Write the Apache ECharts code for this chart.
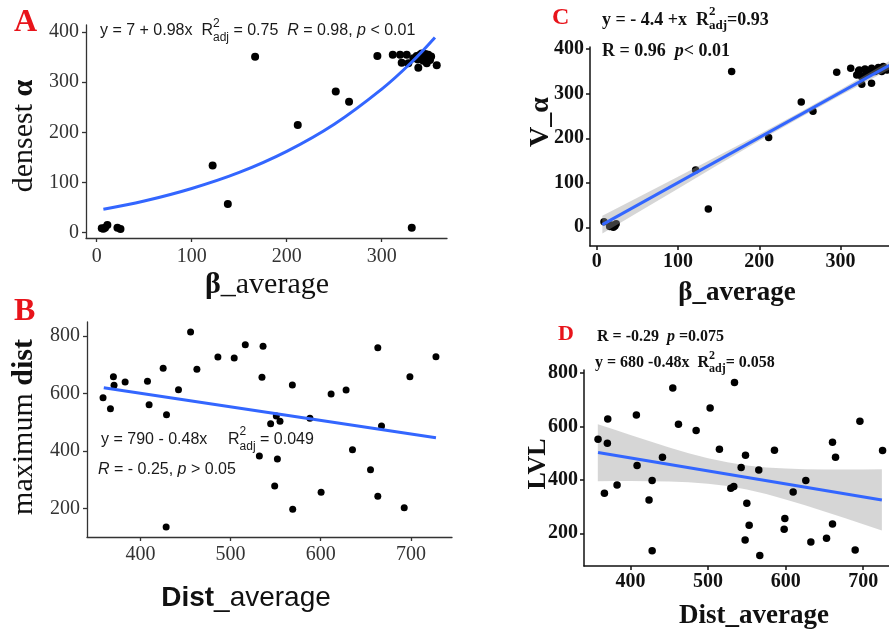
<!DOCTYPE html>
<html><head><meta charset="utf-8">
<script src="https://cdn.jsdelivr.net/npm/echarts@6/dist/echarts.min.js"></script>
<style>html,body{margin:0;padding:0;background:#fff}#c{width:889px;height:632px}</style>
</head><body><div id="c"></div>
<script>
// ---------- Panel A : densest alpha vs beta_average ----------
const betaA  = [5.3,7,8.8,11.2,21.8,25,122,138,166.7,211.6,251.6,265.6,295.4,311.6,319.3,326.3,321,328,336.8,340.3,345.6,349,338.5,350.8,343.8,357.9,333.3,347.4,331.6,342,346,338,352];
const alphaA = [8.7,8,10,15.3,10,7.3,134,57,350.7,214.7,281,261,352,354.6,354.6,354.6,338.6,337.5,352,354.6,350.6,354.6,328.7,344,342.6,333.5,347.4,337.5,10,357,356,345,351];
const curveAx = [7,50,100,150,200,250,300,330,356];
const curveAy = [46.7,63,88,120,162,216,286,337,389];
const ticksA_x = [0,100,200,300];
const ticksA_y = [0,100,200,300,400];

// ---------- Panel B : maximum dist vs Dist_average ----------
const distB = [358.5,366.7,370,370.7,383,407.8,409.6,425.2,428.9,428.5,442.2,455.6,462.6,485.9,504,516.3,536,534.8,531.9,544.4,550.7,554.8,551.9,548.9,568.5,568.9,588,600.4,611.5,628.1,635.2,655.2,663.3,663.3,667.4,692.6,698.9,727.8];
const maxB  = [585.8,547.5,658.7,628.6,640,642.5,561.4,687.7,526.7,136.4,613.6,813.9,684.2,727,723.6,770,764,656.4,383,495.4,522,503.5,372.7,278.9,629.8,197.8,514,256.9,598.5,612.4,405,335.6,759.5,243,487.3,203.6,658.7,728.2];
const fitBx = [359.3,727.8];
const fitBy = [620.5,446.8];
const ticksB_x = [400,500,600,700];
const ticksB_y = [200,400,600,800];

// ---------- Panel C : V_alpha vs beta_average ----------
const betaC = [9,18.4,20.5,22.5,16,24,121.7,137.3,166,211.5,251.6,266,295.2,312.4,323,330,338.2,346.4,352.5,326,334,342.3,350.5,356.7,326,338,319.8,330,322,344,348,354];
const valC  = [12.7,5,0,3,2,8,128.8,41,350,201.5,281.6,260.7,348.3,357.3,353.5,355.7,357.3,358.7,361,338.4,346,349.7,349.7,353.5,321.3,323.6,342.2,342,351,352,355,356];
const fitCx = [7,360];
const fitCy = [6,364];
const bandCx = [7,50,100,150,200,250,300,360];
const bandCup = [26,66.5,113.8,161.2,209.2,258.5,309.8,373.6];
const bandClo = [-14,32.7,86.8,140.8,194.2,246.3,296.4,354.4];
const ticksC_x = [0,100,200,300];
const ticksC_y = [0,100,200,300,400];

// ---------- Panel D : LVL vs Dist_average ----------
const distD = [358.3,366.5,370.3,370.8,382.8,407.7,408.6,424,428,428,441.3,454.6,461.9,484.7,502.7,514.7,529.4,533.2,534.1,542.7,547.8,548.3,550,553,565.4,566.7,585.6,599,598.1,609.7,626,632.5,652.7,660.4,660.4,664.3,689.6,695.7,724.9];
const lvlD  = [552.5,350,537.5,628.8,381,643.8,453.8,325,397.5,135,485,745,608.8,585,670,515,368.8,375,765,446.3,175,492.5,312.5,230,437.5,116.3,511.3,255,215,355,397.5,167.5,181.3,235,541.3,485,137.5,620,510];
const fitDx = [358.3,724];
const fitDy = [502.5,325];
const bandDx  = [358,380,400,425,450,475,500,525,550,575,600,625,650,675,700,724];
const bandDup = [609,588,568,545,522,500,481,466,454,447,443,440,439,439,439,440];
const bandDlo = [395,396,396,395,394,391,386,377,364,347,327,305,282,258,234,210];
const ticksD_x = [400,500,600,700];
const ticksD_y = [200,400,600,800];

// ---------- helpers ----------
const SERIF = "'Liberation Serif','DejaVu Serif',serif";
const SANS = "'Liberation Sans','DejaVu Sans',sans-serif";
const BLUE = '#3366FF';
const RED = '#e8141b';
const zip = (a, b) => a.map((v, i) => [v, b[i]]);

const mctx = document.createElement('canvas').getContext('2d');
function measure(t, f) { mctx.font = f; return mctx.measureText(t).width; }
function txt(x, y, t, f, fill, extra) {
  return Object.assign({ type: 'text', x: x, y: y, silent: true, z: 100,
    style: { text: t, font: f, fill: fill, align: 'left', verticalAlign: 'middle' } }, extra || {});
}
function row(x, y, parts, fill) {
  let cx = x; const out = [];
  parts.forEach(p => {
    if (p.sup != null) {
      out.push(txt(cx, y + p.supDy, p.sup, p.f, fill));
      out.push(txt(cx, y + p.subDy, p.sub, p.f, fill));
      cx += Math.max(measure(p.sup, p.f), measure(p.sub, p.f));
    } else {
      if (p.x != null) cx = p.x;
      out.push(txt(cx, y, p.t, p.f, fill));
      cx += measure(p.t, p.f);
    }
  });
  return out;
}
function richText(x, y, segs, rot, extra) {
  const rich = {}; let s = '';
  segs.forEach((g, i) => { rich['s' + i] = { font: g.f, fill: g.c || '#111' }; s += '{s' + i + '|' + g.t + '}'; });
  return Object.assign({ type: 'text', x: x, y: y, rotation: rot || 0, silent: true, z: 100,
    style: { text: s, rich: rich, align: 'center', verticalAlign: 'middle' } }, extra || {});
}

function xAxis(gi, min, max, ticks, st) {
  return { type: 'value', gridIndex: gi, min: min, max: max,
    axisLine: { show: true, onZero: false, lineStyle: { color: st.c, width: st.w } },
    axisTick: { show: true, inside: false, length: 4, customValues: ticks, lineStyle: { color: st.c, width: st.w } },
    axisLabel: { show: true, customValues: ticks, margin: st.mx, fontFamily: SERIF, fontSize: st.fs, fontWeight: st.fw, color: st.lc },
    splitLine: { show: false } };
}
function yAxis(gi, min, max, ticks, st) {
  return { type: 'value', gridIndex: gi, min: min, max: max,
    axisLine: { show: true, onZero: false, lineStyle: { color: st.c, width: st.w } },
    axisTick: { show: true, inside: false, length: 4, customValues: ticks, lineStyle: { color: st.c, width: st.w } },
    axisLabel: { show: true, customValues: ticks, margin: st.my, fontFamily: SERIF, fontSize: st.fs, fontWeight: st.fw, color: st.lc },
    splitLine: { show: false } };
}
const stAB = { c: '#333', w: 1.3, fs: 20, fw: 'normal', lc: '#333', mx: 8, my: 7 };
const stCD = { c: '#111', w: 1.5, fs: 20, fw: 'bold', lc: '#111', mx: 6, my: 6 };

function scatter(i, xs, ys, size, z) {
  return { type: 'scatter', xAxisIndex: i, yAxisIndex: i, data: zip(xs, ys), symbolSize: size,
    itemStyle: { color: '#000', opacity: 1 }, silent: true, z: z || 2, emphasis: { disabled: true } };
}
function fit(i, xs, ys, smooth) {
  return { type: 'line', xAxisIndex: i, yAxisIndex: i, data: zip(xs, ys), showSymbol: false, smooth: smooth || false,
    lineStyle: { color: BLUE, width: 3 }, silent: true, z: 4, emphasis: { disabled: true } };
}
function band(i, xs, up, lo) {
  return { type: 'custom', xAxisIndex: i, yAxisIndex: i, data: [[xs[0], up[0]]], silent: true, z: 3,
    renderItem: function (params, api) {
      const pts = xs.map((x, k) => api.coord([x, up[k]]));
      for (let k = xs.length - 1; k >= 0; k--) pts.push(api.coord([xs[k], lo[k]]));
      const cs = params.coordSys;
      return { type: 'polygon', shape: { points: pts },
        style: { fill: 'rgba(153,153,153,0.4)' },
        clipPath: { type: 'rect', shape: { x: cs.x, y: cs.y, width: cs.width, height: cs.height } } };
    } };
}

// ---------- text graphics ----------
const g = [];
// panel letters
g.push(txt(14, 23, 'A', 'bold 32px ' + SERIF, RED));
g.push(txt(14, 312, 'B', 'bold 32px ' + SERIF, RED));
g.push(txt(552, 18, 'C', 'bold 24px ' + SERIF, RED));
g.push(txt(558, 334, 'D', 'bold 22px ' + SERIF, RED));

// annotations A
const fA = '16px ' + SANS, fAi = 'italic 16px ' + SANS, fAs = '12px ' + SANS;
g.push(...row(100, 31, [
  { t: 'y = 7 + 0.98x  R', f: fA }, { sup: '2', sub: 'adj', f: fAs, supDy: -7, subDy: 7 },
  { t: ' = 0.75  ', f: fA }, { t: 'R', f: fAi }, { t: ' = 0.98, ', f: fA }, { t: 'p', f: fAi }, { t: ' < 0.01', f: fA }
], '#1a1a1a'));
// annotations B
const fB = '16px ' + SANS, fBi = 'italic 16px ' + SANS, fBs = '12px ' + SANS;
g.push(...row(101, 440, [
  { t: 'y = 790 - 0.48x', f: fB }, { x: 228, t: 'R', f: fB }, { sup: '2', sub: 'adj', f: fBs, supDy: -8, subDy: 7 },
  { t: ' = 0.049', f: fB }
], '#1a1a1a'));
g.push(...row(98, 470, [
  { t: 'R', f: fBi }, { t: ' = - 0.25, ', f: fB }, { t: 'p', f: fBi }, { t: ' > 0.05', f: fB }
], '#1a1a1a'));
// annotations C
const fC = 'bold 18px ' + SERIF, fCi = 'bold italic 18px ' + SERIF, fCs = 'bold 13px ' + SERIF;
g.push(...row(602, 20, [
  { t: 'y = - 4.4 +x  R', f: fC }, { sup: '2', sub: 'adj', f: fCs, supDy: -8, subDy: 6 }, { t: '=0.93', f: fC }
], '#111'));
g.push(...row(602, 51, [
  { t: 'R = 0.96  ', f: fC }, { t: 'p', f: fCi }, { t: '< 0.01', f: fC }
], '#111'));
// annotations D
const fD = 'bold 16px ' + SERIF, fDi = 'bold italic 16px ' + SERIF, fDs = 'bold 12px ' + SERIF;
g.push(...row(597, 337, [
  { t: 'R = -0.29  ', f: fD }, { t: 'p', f: fDi }, { t: ' =0.075', f: fD }
], '#111'));
g.push(...row(595, 363, [
  { t: 'y = 680 -0.48x  R', f: fD }, { sup: '2', sub: 'adj', f: fDs, supDy: -7, subDy: 6 }, { t: '= 0.058', f: fD }
], '#111'));

// axis titles
g.push(richText(24, 136, [{ t: 'densest ', f: '30px ' + SERIF }, { t: 'α', f: 'bold 30px ' + SERIF }], Math.PI / 2));
g.push(richText(267, 285, [{ t: 'β', f: 'bold 30px ' + SERIF }, { t: '_average', f: '30px ' + SERIF }], 0));
g.push(richText(24, 427, [{ t: 'maximum ', f: '30px ' + SERIF }, { t: 'dist', f: 'bold 30px ' + SERIF }], Math.PI / 2));
g.push(richText(246, 598, [{ t: 'Dist', f: 'bold 28px ' + SANS }, { t: '_average', f: '28px ' + SANS }], 0));
g.push(richText(541, 122, [{ t: 'V_α', f: 'bold 28px ' + SERIF }], Math.PI / 2));
g.push(richText(737, 293, [{ t: 'β_average', f: 'bold 27px ' + SERIF }], 0));
g.push(richText(538, 464, [{ t: 'LVL', f: 'bold 26px ' + SERIF }], Math.PI / 2));
g.push(richText(754, 616, [{ t: 'Dist_average', f: 'bold 27px ' + SERIF }], 0));

const option = {
  backgroundColor: '#fff',
  animation: false,
  grid: [
    { left: 86, top: 25, width: 361, height: 213, outerBoundsMode: 'none', containLabel: false },
    { left: 87, top: 322, width: 365, height: 215, outerBoundsMode: 'none', containLabel: false },
    { left: 590, top: 47, width: 299, height: 199, outerBoundsMode: 'none', containLabel: false },
    { left: 584, top: 370, width: 305, height: 196, outerBoundsMode: 'none', containLabel: false }
  ],
  xAxis: [
    xAxis(0, -11.3, 368.7, ticksA_x, Object.assign({}, stAB, { mx: 9 })),
    xAxis(1, 340.7, 745.6, ticksB_x, stAB),
    xAxis(2, -8.2, 359.5, ticksC_x, stCD),
    xAxis(3, 340.2, 733.2, ticksD_x, stCD)
  ],
  yAxis: [
    yAxis(0, -10.6, 413.7, ticksA_y, stAB),
    yAxis(1, 101.7, 848.6, ticksB_y, stAB),
    yAxis(2, -42, 405, ticksC_y, stCD),
    yAxis(3, 77.4, 812, ticksD_y, stCD)
  ],
  series: [
    scatter(0, betaA, alphaA, 8),
    fit(0, curveAx, curveAy, 0.4),
    scatter(1, distB, maxB, 7),
    fit(1, fitBx, fitBy),
    scatter(2, betaC, valC, 7.5),
    band(2, bandCx, bandCup, bandClo),
    fit(2, fitCx, fitCy),
    scatter(3, distD, lvlD, 7.5, 5),
    band(3, bandDx, bandDup, bandDlo),
    fit(3, fitDx, fitDy)
  ],
  graphic: g
};
const chart = echarts.init(document.getElementById('c'), null, { renderer: 'canvas', width: 889, height: 632 });
chart.setOption(option);
</script>
</body></html>
